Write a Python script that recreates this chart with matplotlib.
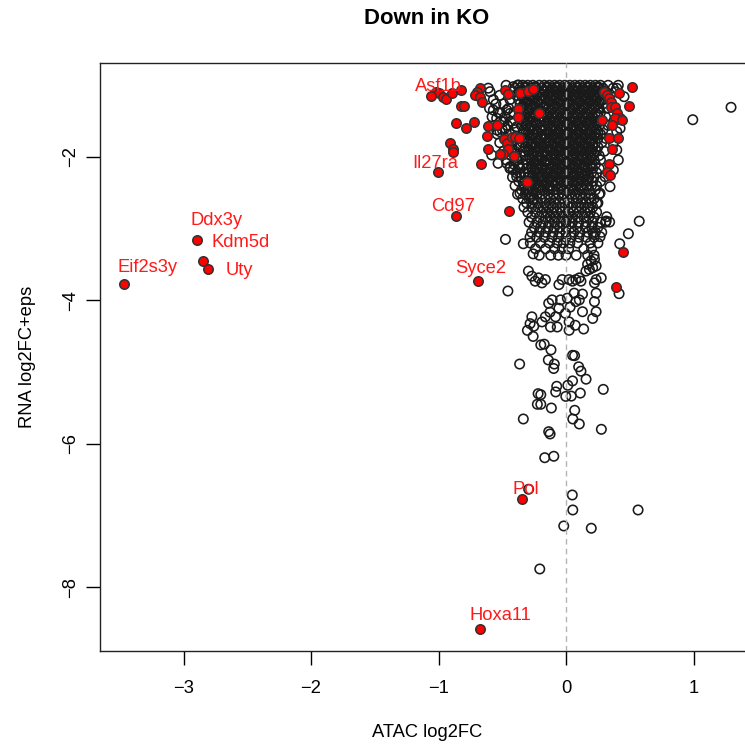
import matplotlib
matplotlib.use("Agg")
import matplotlib.pyplot as plt

plt.rcParams['font.family'] = ['Liberation Sans', 'DejaVu Sans']

# dense core of the cloud: one list of ATAC values per RNA level
core_y = [-1.00, -1.04, -1.09, -1.14, -1.20, -1.26, -1.32, -1.38, -1.44, -1.50,
          -1.56, -1.62, -1.68, -1.74, -1.80, -1.86, -1.92, -1.98, -2.04, -2.10,
          -2.16, -2.22, -2.28, -2.34, -2.40, -2.46, -2.52, -2.58, -2.64, -2.70,
          -2.77, -2.84, -2.91, -2.98, -3.05, -3.12, -3.20, -3.28, -3.37]
core_x = [
    [-0.47, -0.38, -0.34, -0.30, -0.26, -0.21, -0.17, -0.13, -0.09, -0.05, -0.01, 0.03, 0.07, 0.11, 0.15, 0.19, 0.23, 0.27, 0.33, 0.41],
    [-0.61, -0.40, -0.36, -0.32, -0.28, -0.24, -0.19, -0.15, -0.11, -0.07, -0.03, 0.01, 0.05, 0.09, 0.13, 0.17, 0.21, 0.25, 0.29, 0.37],
    [-0.42, -0.37, -0.33, -0.29, -0.25, -0.21, -0.17, -0.12, -0.08, -0.04, 0.00, 0.04, 0.08, 0.12, 0.16, 0.20, 0.24, 0.28, 0.31, 0.39],
    [-0.52, -0.39, -0.35, -0.31, -0.27, -0.23, -0.19, -0.14, -0.10, -0.06, -0.02, 0.02, 0.06, 0.10, 0.14, 0.18, 0.22, 0.26, 0.30],
    [-0.57, -0.44, -0.37, -0.33, -0.29, -0.25, -0.21, -0.16, -0.12, -0.08, -0.04, 0.00, 0.04, 0.08, 0.12, 0.16, 0.20, 0.24, 0.28, 0.34],
    [-0.55, -0.49, -0.36, -0.32, -0.28, -0.24, -0.20, -0.15, -0.11, -0.07, -0.03, 0.01, 0.05, 0.09, 0.13, 0.17, 0.21, 0.25, 0.29],
    [-0.60, -0.45, -0.35, -0.31, -0.27, -0.23, -0.18, -0.14, -0.10, -0.06, -0.02, 0.02, 0.06, 0.10, 0.14, 0.18, 0.22, 0.26, 0.32],
    [-0.53, -0.41, -0.34, -0.30, -0.26, -0.22, -0.17, -0.13, -0.09, -0.05, -0.01, 0.03, 0.07, 0.11, 0.15, 0.19, 0.23, 0.27],
    [-0.58, -0.48, -0.36, -0.32, -0.28, -0.24, -0.19, -0.15, -0.11, -0.07, -0.03, 0.01, 0.05, 0.09, 0.13, 0.17, 0.21, 0.25, 0.31],
    [-0.51, -0.43, -0.34, -0.30, -0.26, -0.21, -0.17, -0.13, -0.09, -0.05, -0.01, 0.03, 0.07, 0.11, 0.15, 0.19, 0.23, 0.27],
    [-0.56, -0.46, -0.35, -0.31, -0.27, -0.23, -0.18, -0.14, -0.10, -0.06, -0.02, 0.02, 0.06, 0.10, 0.14, 0.18, 0.22, 0.26, 0.33],
    [-0.50, -0.40, -0.33, -0.29, -0.25, -0.20, -0.16, -0.12, -0.08, -0.04, 0.00, 0.04, 0.08, 0.12, 0.16, 0.20, 0.24, 0.29],
    [-0.54, -0.44, -0.34, -0.30, -0.26, -0.22, -0.17, -0.13, -0.09, -0.05, -0.01, 0.03, 0.07, 0.11, 0.15, 0.19, 0.23, 0.27],
    [-0.47, -0.38, -0.33, -0.29, -0.24, -0.20, -0.16, -0.12, -0.08, -0.04, 0.00, 0.04, 0.08, 0.12, 0.16, 0.20, 0.25, 0.31],
    [-0.52, -0.42, -0.34, -0.30, -0.26, -0.21, -0.17, -0.13, -0.09, -0.05, -0.01, 0.03, 0.07, 0.11, 0.15, 0.19, 0.23, 0.28],
    [-0.45, -0.37, -0.32, -0.28, -0.24, -0.20, -0.15, -0.11, -0.07, -0.03, 0.01, 0.05, 0.09, 0.13, 0.17, 0.21, 0.25],
    [-0.49, -0.40, -0.33, -0.29, -0.25, -0.21, -0.17, -0.12, -0.08, -0.04, 0.00, 0.04, 0.08, 0.12, 0.16, 0.20, 0.24, 0.30],
    [-0.43, -0.36, -0.32, -0.27, -0.23, -0.19, -0.15, -0.11, -0.07, -0.03, 0.01, 0.05, 0.09, 0.13, 0.17, 0.21, 0.26],
    [-0.47, -0.38, -0.31, -0.27, -0.23, -0.19, -0.15, -0.10, -0.06, -0.02, 0.02, 0.06, 0.10, 0.14, 0.18, 0.22, 0.27],
    [-0.41, -0.34, -0.30, -0.26, -0.22, -0.17, -0.13, -0.09, -0.05, -0.01, 0.03, 0.07, 0.11, 0.15, 0.19, 0.23],
    [-0.44, -0.36, -0.31, -0.27, -0.23, -0.19, -0.15, -0.11, -0.07, -0.03, 0.01, 0.05, 0.09, 0.13, 0.17, 0.21, 0.26],
    [-0.39, -0.33, -0.29, -0.25, -0.21, -0.16, -0.12, -0.08, -0.04, 0.00, 0.04, 0.08, 0.12, 0.16, 0.20, 0.24],
    [-0.42, -0.35, -0.30, -0.26, -0.22, -0.18, -0.14, -0.10, -0.06, -0.02, 0.02, 0.06, 0.10, 0.14, 0.18, 0.22],
    [-0.37, -0.32, -0.28, -0.24, -0.19, -0.15, -0.11, -0.07, -0.03, 0.01, 0.05, 0.09, 0.13, 0.17, 0.21, 0.27],
    [-0.40, -0.33, -0.29, -0.25, -0.21, -0.17, -0.13, -0.08, -0.04, 0.00, 0.04, 0.08, 0.12, 0.16, 0.20, 0.24],
    [-0.35, -0.30, -0.26, -0.22, -0.18, -0.14, -0.10, -0.06, -0.02, 0.02, 0.06, 0.10, 0.14, 0.18, 0.23],
    [-0.38, -0.32, -0.27, -0.23, -0.19, -0.14, -0.10, -0.06, -0.02, 0.03, 0.07, 0.11, 0.15, 0.19, 0.26],
    [-0.34, -0.29, -0.25, -0.20, -0.16, -0.12, -0.08, -0.03, 0.01, 0.05, 0.09, 0.13, 0.18, 0.22],
    [-0.31, -0.26, -0.22, -0.17, -0.13, -0.09, -0.05, -0.01, 0.03, 0.08, 0.12, 0.16, 0.20, 0.25],
    [-0.33, -0.27, -0.22, -0.18, -0.14, -0.10, -0.05, -0.01, 0.04, 0.08, 0.12, 0.17, 0.21],
    [-0.30, -0.24, -0.19, -0.15, -0.11, -0.07, -0.03, 0.02, 0.06, 0.10, 0.15, 0.19, 0.24],
    [-0.27, -0.21, -0.16, -0.12, -0.08, -0.03, 0.01, 0.05, 0.09, 0.14, 0.18, 0.22],
    [-0.29, -0.23, -0.18, -0.13, -0.09, -0.04, 0.00, 0.05, 0.10, 0.16, 0.21, 0.27, 0.31],
    [-0.25, -0.20, -0.14, -0.09, -0.05, 0.00, 0.04, 0.09, 0.15, 0.20, 0.25],
    [-0.27, -0.21, -0.16, -0.10, -0.05, 0.00, 0.06, 0.11, 0.17, 0.23, 0.28],
    [-0.23, -0.17, -0.11, -0.06, 0.00, 0.04, 0.10, 0.16, 0.22],
    [-0.28, -0.20, -0.13, -0.07, -0.02, 0.03, 0.09, 0.19, 0.25],
    [-0.24, -0.16, -0.09, -0.03, 0.02, 0.14, 0.20],
    [-0.21, -0.12, -0.06, 0.00, 0.08, 0.17, 0.22],
]

# extra genes packed into the darkest part of the cloud
inner_y = [-1.02, -1.07, -1.12, -1.17, -1.23, -1.29, -1.35, -1.41, -1.47, -1.53,
           -1.59, -1.65, -1.71, -1.77, -1.83, -1.89, -1.95, -2.01, -2.07, -2.13,
           -2.19, -2.25, -2.31, -2.37, -2.43]
inner_x = [
    [-0.32, -0.24, -0.15, -0.07, 0.01, 0.09, 0.17, 0.25],
    [-0.34, -0.26, -0.17, -0.09, -0.01, 0.07, 0.15, 0.22],
    [-0.31, -0.23, -0.14, -0.06, 0.02, 0.10, 0.18, 0.26],
    [-0.33, -0.25, -0.16, -0.08, 0.00, 0.08, 0.16, 0.24],
    [-0.30, -0.22, -0.13, -0.05, 0.03, 0.11, 0.19, 0.26],
    [-0.34, -0.26, -0.17, -0.09, -0.01, 0.07, 0.15, 0.23],
    [-0.29, -0.21, -0.12, -0.04, 0.04, 0.12, 0.20],
    [-0.32, -0.24, -0.15, -0.07, 0.01, 0.09, 0.17, 0.25],
    [-0.30, -0.22, -0.13, -0.05, 0.03, 0.11, 0.19],
    [-0.31, -0.23, -0.14, -0.06, 0.02, 0.10, 0.18, 0.24],
    [-0.28, -0.20, -0.11, -0.03, 0.05, 0.13, 0.21],
    [-0.31, -0.23, -0.14, -0.06, 0.02, 0.10, 0.18, 0.25],
    [-0.27, -0.19, -0.10, -0.02, 0.06, 0.14, 0.22],
    [-0.30, -0.22, -0.13, -0.05, 0.03, 0.11, 0.19],
    [-0.27, -0.19, -0.10, -0.02, 0.06, 0.14, 0.21],
    [-0.29, -0.21, -0.12, -0.04, 0.04, 0.12, 0.19],
    [-0.26, -0.18, -0.09, -0.01, 0.07, 0.15, 0.22],
    [-0.28, -0.20, -0.11, -0.03, 0.05, 0.13, 0.20],
    [-0.25, -0.17, -0.08, 0.00, 0.08, 0.16],
    [-0.27, -0.19, -0.10, -0.02, 0.06, 0.14, 0.20],
    [-0.24, -0.16, -0.07, 0.01, 0.09, 0.16],
    [-0.26, -0.18, -0.09, -0.01, 0.07, 0.15],
    [-0.22, -0.14, -0.05, 0.03, 0.11, 0.17],
    [-0.24, -0.16, -0.07, 0.01, 0.09],
    [-0.21, -0.13, -0.04, 0.04, 0.12],
]

# scattered non-significant genes around the core
open_x = [-0.596, -0.570, -0.518, -0.544, -0.492, -0.465, -0.439, -0.413, -0.387, -0.518,
          -0.478, -0.544, -0.426, -0.387, -0.400, -0.387, -0.465, -0.439, -0.413, -0.374,
          -0.361, -0.387, -0.335, -0.308, -0.361, -0.282, -0.256, -0.413, -0.374, -0.583,
          -0.533, 0.398, 0.455, 0.424, 0.398, 0.371, 0.398, 0.410, 0.371, 0.306,
          0.345, 0.267, 0.241, 0.319, 0.214, 0.267, 1.294, 0.994,
          -0.475, -0.335, -0.258, -0.456, 0.416, 0.421, 0.489, 0.574, 0.315, 0.342, -0.282,
          0.196, 0.223, 0.169, 0.236, 0.209, 0.183, 0.156, 0.236, 0.276, 0.223,
          0.104, 0.077, 0.050, 0.117, -0.056, 0.024, -0.030, -0.162, -0.216, -0.242,
          -0.189, -0.268, -0.295, 0.064, 0.129, 0.104, 0.010, 0.077, 0.236, 0.223,
          -0.109, -0.043, -0.136, -0.056, -0.005, -0.082, 0.129, 0.236, 0.209, 0.024,
          -0.162, -0.189, -0.268, -0.282, -0.122, -0.069, 0.024,
          -0.253, -0.303, -0.258, 0.072, 0.138, -0.126, 0.032,
          -0.198, -0.171, -0.118, -0.139, -0.364, -0.092, -0.097, 0.099, 0.117, 0.157,
          0.051, 0.051, 0.067, 0.014, -0.073, -0.081, -0.219, -0.198, -0.002, 0.041,
          0.112, 0.292,
          -0.225, -0.198, -0.115, 0.068, -0.335, 0.053, 0.104, 0.277, -0.136, -0.125,
          -0.167, -0.096, -0.293, 0.049, 0.053, 0.565, -0.018, 0.198, -0.206]
open_y = [-1.089, -1.345, -1.391, -1.460, -1.508, -1.345, -1.391, -1.530, -1.577, -1.647,
          -1.600, -1.623, -1.879, -1.833, -1.949, -2.042, -2.088, -2.135, -2.181, -2.135,
          -2.227, -2.275, -2.367, -2.460, -2.506, -2.554, -2.600, -1.019, -0.996, -1.972,
          -2.088, -1.042, -1.159, -1.600, -1.647, -1.809, -1.902, -2.042, -2.181, -2.275,
          -2.414, -2.506, -2.646, -2.833, -3.064, -3.111, -1.307, -1.480,
          -3.149, -3.210, -3.351, -3.869, -3.906, -3.210, -3.070, -2.895, -2.893, -2.907, -3.116,
          -3.449, -3.425, -3.496, -3.520, -3.544, -3.568, -3.591, -3.710, -3.686, -3.756,
          -3.686, -3.710, -3.732, -3.732, -3.780, -3.710, -3.710, -3.710, -3.686, -3.732,
          -3.756, -3.662, -3.591, -3.899, -3.912, -3.993, -3.969, -4.017, -3.899, -4.017,
          -3.993, -3.993, -4.040, -4.110, -4.181, -4.229, -4.158, -4.158, -4.252, -4.300,
          -4.229, -4.300, -4.229, -4.324, -4.371, -4.371, -4.417,
          -4.361, -4.418, -4.503, -4.347, -4.399, -4.164, -4.094,
          -4.621, -4.611, -4.690, -4.831, -4.888, -4.888, -4.950, -4.926, -4.987, -5.099,
          -5.123, -4.766, -4.771, -5.184, -5.198, -5.277, -5.301, -5.315, -5.339, -5.335,
          -5.293, -5.241,
          -5.449, -5.449, -5.501, -5.533, -5.654, -5.654, -5.724, -5.798, -5.831, -5.863,
          -6.194, -6.174, -6.634, -6.714, -6.923, -6.923, -7.146, -7.178, -7.746]

# highlighted genes without a label
red_x = [-1.020, -0.994, -0.962, -0.941, -0.896, -0.826, -0.824, -0.800, -0.863, -0.784,
         -0.722, -0.675, -0.696, -0.714, -0.675, -0.661, -0.478, -0.453, -0.361, -0.296,
         -0.256, -0.209, -0.374, -0.374, -0.609, -0.544, -0.617, -0.486, -0.465, -0.426,
         -0.400, -0.366, -0.453, -0.496, -0.518, -0.405, -0.910, -0.889, -0.884, -0.609,
         -0.667, -0.308, -0.449,
         0.515, 0.298, 0.319, 0.340, 0.351, 0.418, 0.496, 0.351, 0.384, 0.398,
         0.424, 0.384, 0.358, 0.437, 0.280, 0.340, 0.410, 0.363, 0.340, 0.324,
         0.345, 0.445, 0.389]
red_y = [-1.089, -1.111, -1.159, -1.195, -1.103, -1.065, -1.289, -1.289, -1.530, -1.591,
         -1.508, -1.042, -1.089, -1.135, -1.159, -1.229, -1.066, -1.125, -1.112, -1.075,
         -1.047, -1.382, -1.335, -1.446, -1.568, -1.554, -1.707, -1.753, -1.809, -1.725,
         -1.725, -1.739, -1.893, -1.958, -1.962, -1.986, -1.809, -1.893, -1.926, -1.893,
         -2.093, -2.353, -2.749,
         -1.019, -1.089, -1.135, -1.181, -1.229, -1.112, -1.284, -1.298, -1.298, -1.390,
         -1.460, -1.460, -1.554, -1.484, -1.484, -1.731, -1.731, -1.893, -2.098, -2.205,
         -2.251, -3.321, -3.808]

# labelled genes: point and label anchor
genes = ['Asf1b', 'Il27ra', 'Cd97', 'Syce2', 'Pol', 'Hoxa11',
         'Ddx3y', 'Kdm5d', 'Uty', 'Eif2s3y']
gene_x = [-1.061, -1.002, -0.864, -0.691, -0.345, -0.675,
          -2.892, -2.845, -2.806, -3.467]
gene_y = [-1.149, -2.213, -2.826, -3.732, -6.770, -8.587,
          -3.158, -3.450, -3.562, -3.776]
text_x = [-1.002, -1.027, -0.889, -0.667, -0.319, -0.518,
          -2.737, -2.551, -2.565, -3.284]
text_y = [-1.010, -2.088, -2.693, -3.558, -6.635, -8.392,
          -2.879, -3.195, -3.586, -3.544]

xticks = [-3, -2, -1, 0, 1]
yticks = [-8, -6, -4, -2]

fig = plt.figure(figsize=(7.45, 7.46), dpi=100)
ax = fig.add_axes([100 / 745, 95 / 746, 655 / 745, 588 / 746])

cx, cy = [], []
for yy, row in list(zip(core_y, core_x)) + list(zip(inner_y, inner_x)):
    for xx in row:
        cx.append(xx)
        cy.append(yy)

ax.scatter(cx + open_x, cy + open_y, s=46, facecolors='none',
           edgecolors='#1a1a1a', linewidths=1.15, zorder=2)
ax.scatter(red_x + gene_x, red_y + gene_y, s=46, facecolors='#ff0000',
           edgecolors='#333333', linewidths=1.15, zorder=3)
ax.axvline(0, color='#b4b4b4', lw=1.0, ls=(0, (4, 3)), zorder=4)

for name, tx, ty in zip(genes, text_x, text_y):
    ax.text(tx, ty, name, color='#ff1a1a', fontsize=13.2,
            ha='center', va='center', zorder=5)

ax.set_xlim(-3.655, 1.482)
ax.set_ylim(-8.890, -0.689)
ax.set_xticks(xticks)
ax.set_yticks(yticks)
ax.set_xticklabels([str(t).replace('-', '\u2212') for t in xticks])
ax.set_yticklabels([str(t).replace('-', '\u2212') for t in yticks],
                   rotation=90, va='center')
ax.tick_params(direction='out', length=10, width=1.0, labelsize=13.2)
ax.tick_params(axis='x', pad=11)
ax.tick_params(axis='y', pad=5)
for sp in ax.spines.values():
    sp.set_linewidth(1.0)
    sp.set_color('#222222')

ax.set_xlabel('ATAC log2FC', fontsize=13.2, labelpad=19)
ax.set_ylabel('RNA log2FC+eps', fontsize=13.2, labelpad=19)
fig.text(427 / 745, 1 - 18 / 746, 'Down in KO', fontsize=15.9, fontweight='bold',
         ha='center', va='center')

fig.savefig('out.png', dpi=100)
